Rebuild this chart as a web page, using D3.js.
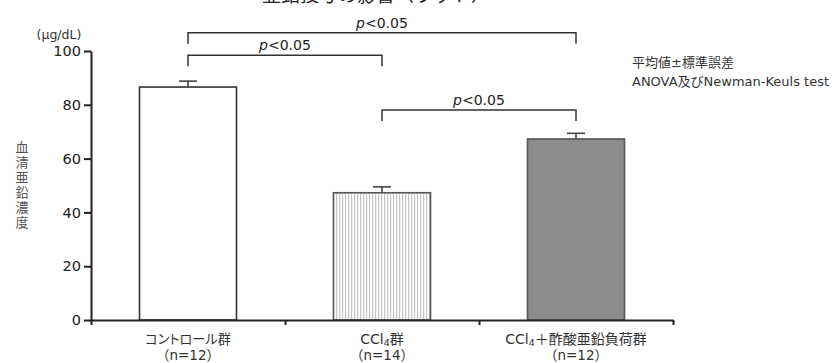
<!DOCTYPE html>
<html>
<head>
<meta charset="utf-8">
<script src="https://cdn.jsdelivr.net/npm/d3@7"></script>
<style>
  html, body { margin: 0; padding: 0; background: #fff; }
  svg { display: block; }
  .lat { font-family: "DejaVu Sans", Verdana, sans-serif; }
  .jp { font-family: "Noto Sans CJK JP", "Noto Sans", sans-serif; }
  .mix { font-family: "DejaVu Sans", "Noto Sans CJK JP", sans-serif; }
  .palt { font-feature-settings: "palt"; }
  .vert { writing-mode: vertical-rl; text-orientation: upright; }
</style>
</head>
<body>
<svg id="chart" width="839" height="363"></svg>
<script>
// Serum zinc concentration by group (mean ± SE)
const groups = ["control", "ccl4", "ccl4zn"];
const groupNames = ["コントロール群", "CCl4群", "CCl4＋酢酸亜鉛負荷群"];
const groupN = ["（n=12）", "（n=14）", "（n=12）"];
const means = [86.6, 47.3, 67.3];
const errors = [2.2, 2.2, 2.1];
const yTicks = [0, 20, 40, 60, 80, 100];

// significance brackets: from group, to group, bracket level (µg/dL)
const sigFrom = [0, 0, 1];
const sigTo = [2, 1, 2];
const sigLevel = [106.8, 98.4, 78.1];
const sigText = ["p<0.05", "p<0.05", "p<0.05"];

const titleText = "亜鉛投与の影響（ラット）";
const yLabel = "血清亜鉛濃度";
const unitText = "(μg/dL)";
const noteLines = ["平均値±標準誤差", "ANOVA及びNewman-Keuls test"];

const svg = d3.select("#chart");
const plotLeft = 91, plotRight = 673, plotTop = 51, plotBottom = 320;

const x = d3.scaleBand().domain(groups).range([plotLeft, plotRight])
  .paddingInner(0.5).paddingOuter(0.25);
const xEdge = d3.scaleLinear().domain([0, groups.length]).range([plotLeft, plotRight]);
const y = d3.scaleLinear().domain([0, 100]).range([plotBottom, plotTop]);

// hatch pattern for the CCl4 bar
const defs = svg.append("defs");
const pat = defs.append("pattern").attr("id", "vhatch")
  .attr("patternUnits", "userSpaceOnUse").attr("width", 3).attr("height", 6);
pat.append("rect").attr("width", 3).attr("height", 6).attr("fill", "#fff");
pat.append("rect").attr("x", 0).attr("width", 1.2).attr("height", 6).attr("fill", "#c4c4c4");

const fills = ["#ffffff", "url(#vhatch)", "#8c8c8c"];
const strokes = ["#333", "#555", "#555"];

// title, running off the top edge
svg.append("text").attr("class", "jp")
  .attr("x", 376).attr("y", 2).attr("text-anchor", "middle")
  .attr("font-size", 19).attr("fill", "#222").text(titleText);

// bars
svg.append("g").selectAll("rect").data(groups).join("rect")
  .attr("x", d => x(d))
  .attr("y", (d, i) => y(means[i]))
  .attr("width", x.bandwidth())
  .attr("height", (d, i) => y(0) - y(means[i]))
  .attr("fill", (d, i) => fills[i])
  .attr("stroke", (d, i) => strokes[i])
  .attr("stroke-width", 1.6);

// upper error bars
const eg = svg.append("g").attr("stroke", "#444").attr("stroke-width", 1.6);
groups.forEach((g, i) => {
  const cx = x(g) + x.bandwidth() / 2;
  eg.append("line").attr("x1", cx).attr("x2", cx)
    .attr("y1", y(means[i])).attr("y2", y(means[i] + errors[i]));
  eg.append("line").attr("x1", cx - 9).attr("x2", cx + 9)
    .attr("y1", y(means[i] + errors[i])).attr("y2", y(means[i] + errors[i]));
});

// y axis
const yAxis = svg.append("g").attr("transform", `translate(${plotLeft},0)`)
  .call(d3.axisLeft(y).tickValues(yTicks).tickSize(7).tickSizeOuter(0).tickPadding(3));
yAxis.attr("font-family", null).attr("font-size", null);
yAxis.selectAll("path, line").attr("stroke", "#222").attr("stroke-width", 2);
yAxis.selectAll("text").attr("class", "lat").attr("font-size", 14.5).attr("fill", "#222");

// x axis with ticks on group boundaries
const xAxis = svg.append("g").attr("transform", `translate(0,${plotBottom})`)
  .call(d3.axisBottom(xEdge).tickValues(d3.range(groups.length + 1))
    .tickSize(5).tickSizeOuter(0).tickFormat(""));
xAxis.selectAll("path, line").attr("stroke", "#222").attr("stroke-width", 2);

// group labels ("CCl4" drawn with a subscript 4)
groups.forEach((g, i) => {
  const cx = x(g) + x.bandwidth() / 2;
  const t = svg.append("text").attr("class", "mix palt").attr("text-anchor", "middle")
    .attr("font-size", 14).attr("fill", "#333").attr("x", cx).attr("y", 344);
  const name = groupNames[i];
  const k = name.indexOf("CCl4");
  if (k >= 0) {
    t.append("tspan").text(name.slice(0, k + 3));
    t.append("tspan").attr("font-size", 9.5).attr("dy", 2).text("4");
    t.append("tspan").attr("dy", -2).text(name.slice(k + 4));
  } else {
    t.attr("font-size", 13.2).text(name);
  }
  svg.append("text").attr("class", "mix").attr("text-anchor", "middle")
    .attr("font-size", 13.5).attr("fill", "#333").attr("x", cx).attr("y", 360)
    .text(groupN[i]);
});

// significance brackets
const bg = svg.append("g");
sigFrom.forEach((f, i) => {
  const x1 = x(groups[f]) + x.bandwidth() / 2;
  const x2 = x(groups[sigTo[i]]) + x.bandwidth() / 2;
  const yy = y(sigLevel[i]);
  bg.append("path")
    .attr("d", `M${x1},${yy + 11}V${yy}H${x2}V${yy + 11}`)
    .attr("fill", "none").attr("stroke", "#333").attr("stroke-width", 1.5);
  const t = bg.append("text").attr("class", "lat").attr("text-anchor", "middle")
    .attr("x", (x1 + x2) / 2).attr("y", yy - 5)
    .attr("font-size", 14).attr("fill", "#222");
  t.append("tspan").attr("font-style", "italic").text(sigText[i].slice(0, 1));
  t.append("tspan").text(sigText[i].slice(1));
});

// y axis title, set vertically
svg.append("text").attr("class", "jp vert")
  .attr("x", 22).attr("y", 141)
  .attr("font-size", 13).attr("letter-spacing", 2).attr("fill", "#555")
  .text(yLabel);

// unit
svg.append("text").attr("class", "lat").attr("x", 59).attr("y", 39)
  .attr("text-anchor", "middle").attr("font-size", 12.5).attr("fill", "#333")
  .text(unitText);

// statistics note
noteLines.forEach((s, i) => {
  svg.append("text").attr("class", "mix").attr("x", 632).attr("y", 67 + i * 19)
    .attr("font-size", 13).attr("fill", "#333").text(s);
});
</script>
</body>
</html>
